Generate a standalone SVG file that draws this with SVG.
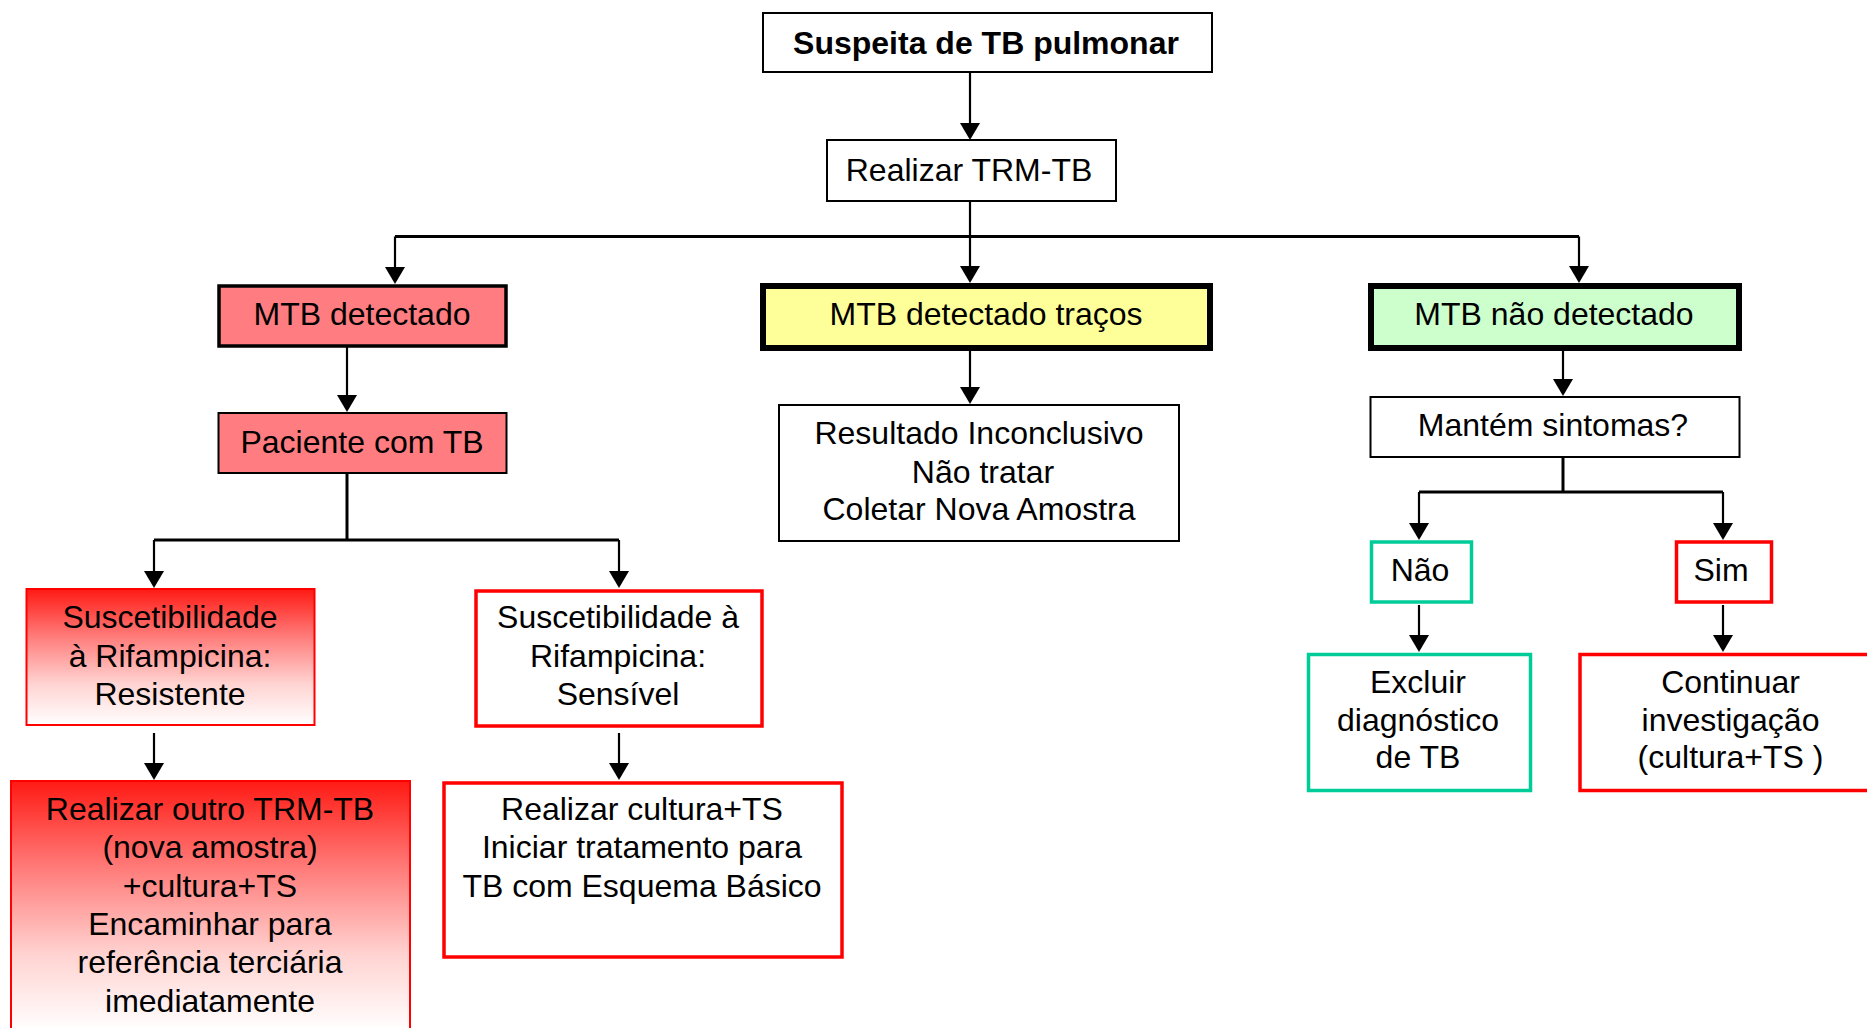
<svg xmlns="http://www.w3.org/2000/svg" width="1867" height="1028" viewBox="0 0 1867 1028">
  <defs>
    <marker id="arrow" markerUnits="userSpaceOnUse" markerWidth="17" markerHeight="20" viewBox="0 0 17 20" refX="9" refY="10" orient="auto">
      <path d="M0,0 L17,10 L0,20 z" fill="#000"/>
    </marker>
    <linearGradient id="redFade" x1="0" y1="0" x2="0" y2="1">
      <stop offset="0" stop-color="#FF1A14"/>
      <stop offset="0.35" stop-color="#FF7C7A"/>
      <stop offset="0.7" stop-color="#FFD4D2"/>
      <stop offset="1" stop-color="#FFFFFF"/>
    </linearGradient>
    <style>
      text { font-family: "Liberation Sans", Arial, sans-serif; font-size: 32px; fill: #000; text-anchor: middle; }
      .title { font-weight: bold; }
      .plain { fill: #fff; stroke: #000; stroke-width: 2; }
      .pink { fill: #FF7C80; stroke: #000; }
      .yellow { fill: #FFFF99; stroke: #000; stroke-width: 6; }
      .green { fill: #CCFFCC; stroke: #000; stroke-width: 6; }
      .redline { fill: #fff; stroke: #FF0000; stroke-width: 3.5; }
      .redfade { fill: url(#redFade); stroke: #FF0000; stroke-width: 2; }
      .teal { fill: #fff; stroke: #00CC99; stroke-width: 3.5; }
      .arr { fill: none; stroke: #000; stroke-width: 2.2; marker-end: url(#arrow); }
      .bus { fill: none; stroke: #000; stroke-width: 3; }
    </style>
  </defs>

  <!-- connectors -->
  <g id="connectors">
    <path class="arr" d="M970,73 V132"/>
    <path class="arr" d="M970,202 V275"/>
    <path class="bus" d="M395,236.5 H1579"/>
    <path class="arr" d="M395,236.5 V276"/>
    <path class="arr" d="M1579,236.5 V275"/>

    <path class="arr" d="M347,347 V404"/>
    <path class="bus" d="M347,474 V540 M154,540 H619"/>
    <path class="arr" d="M154,540 V580"/>
    <path class="arr" d="M619,540 V580"/>
    <path class="arr" d="M154,733 V772"/>
    <path class="arr" d="M619,733 V772"/>

    <path class="arr" d="M970,351 V396"/>

    <path class="arr" d="M1563,351 V388"/>
    <path class="bus" d="M1563,458 V492 M1419,492 H1723"/>
    <path class="arr" d="M1419,492 V532"/>
    <path class="arr" d="M1723,492 V532"/>
    <path class="arr" d="M1419,605 V644"/>
    <path class="arr" d="M1723,605 V644"/>
  </g>

  <!-- top -->
  <g id="suspeita">
    <rect class="plain" x="763" y="13" width="449" height="59"/>
    <text class="title" x="986" y="54">Suspeita de TB pulmonar</text>
  </g>
  <g id="realizar-trm">
    <rect class="plain" x="827" y="140" width="289" height="61"/>
    <text x="969" y="181">Realizar TRM-TB</text>
  </g>

  <!-- left branch -->
  <g id="mtb-detectado">
    <rect class="pink" stroke-width="3.5" x="219" y="286" width="287" height="60"/>
    <text x="362" y="325">MTB detectado</text>
  </g>
  <g id="paciente">
    <rect class="pink" stroke-width="2" x="218.5" y="413" width="288" height="60"/>
    <text x="362" y="453">Paciente com TB</text>
  </g>
  <g id="resistente">
    <rect class="redfade" stroke-width="1.5" x="26.5" y="589" width="288" height="136"/>
    <text x="170" y="628">Suscetibilidade</text>
    <text x="170" y="667">à Rifampicina:</text>
    <text x="170" y="705">Resistente</text>
  </g>
  <g id="sensivel">
    <rect class="redline" x="476" y="591" width="286" height="135"/>
    <text x="618" y="628">Suscetibilidade à</text>
    <text x="618" y="667">Rifampicina:</text>
    <text x="618" y="705">Sensível</text>
  </g>
  <g id="outro-trm">
    <rect class="redfade" x="11" y="781" width="399" height="250"/>
    <text x="210" y="820">Realizar outro TRM-TB</text>
    <text x="210" y="858">(nova amostra)</text>
    <text x="210" y="897">+cultura+TS</text>
    <text x="210" y="935">Encaminhar para</text>
    <text x="210" y="973">referência terciária</text>
    <text x="210" y="1012">imediatamente</text>
  </g>
  <g id="esquema-basico">
    <rect class="redline" x="444" y="783" width="398" height="174"/>
    <text x="642" y="820">Realizar cultura+TS</text>
    <text x="642" y="858">Iniciar tratamento para</text>
    <text x="642" y="897">TB com Esquema Básico</text>
  </g>

  <!-- middle branch -->
  <g id="tracos">
    <rect class="yellow" x="763" y="286" width="447" height="62"/>
    <text x="986" y="325">MTB detectado traços</text>
  </g>
  <g id="inconclusivo">
    <rect class="plain" x="779" y="405" width="400" height="136"/>
    <text x="979" y="444">Resultado Inconclusivo</text>
    <text x="983" y="483">Não tratar</text>
    <text x="979" y="520">Coletar Nova Amostra</text>
  </g>

  <!-- right branch -->
  <g id="nao-detectado">
    <rect class="green" x="1371" y="286" width="368" height="62"/>
    <text x="1554" y="325">MTB não detectado</text>
  </g>
  <g id="sintomas">
    <rect class="plain" x="1370.5" y="397" width="369" height="60"/>
    <text x="1553" y="436">Mantém sintomas?</text>
  </g>
  <g id="nao">
    <rect class="teal" x="1371.5" y="542" width="100" height="60"/>
    <text x="1420" y="581">Não</text>
  </g>
  <g id="sim">
    <rect class="redline" x="1676.5" y="542" width="95" height="60"/>
    <text x="1721" y="581">Sim</text>
  </g>
  <g id="excluir">
    <rect class="teal" x="1308.5" y="654.5" width="222" height="136"/>
    <text x="1418" y="693">Excluir</text>
    <text x="1418" y="731">diagnóstico</text>
    <text x="1418" y="768">de TB</text>
  </g>
  <g id="continuar">
    <rect class="redline" x="1580" y="654.5" width="310" height="136"/>
    <text x="1730.5" y="693">Continuar</text>
    <text x="1730.5" y="731">investigação</text>
    <text x="1730.5" y="768">(cultura+TS )</text>
  </g>
</svg>
